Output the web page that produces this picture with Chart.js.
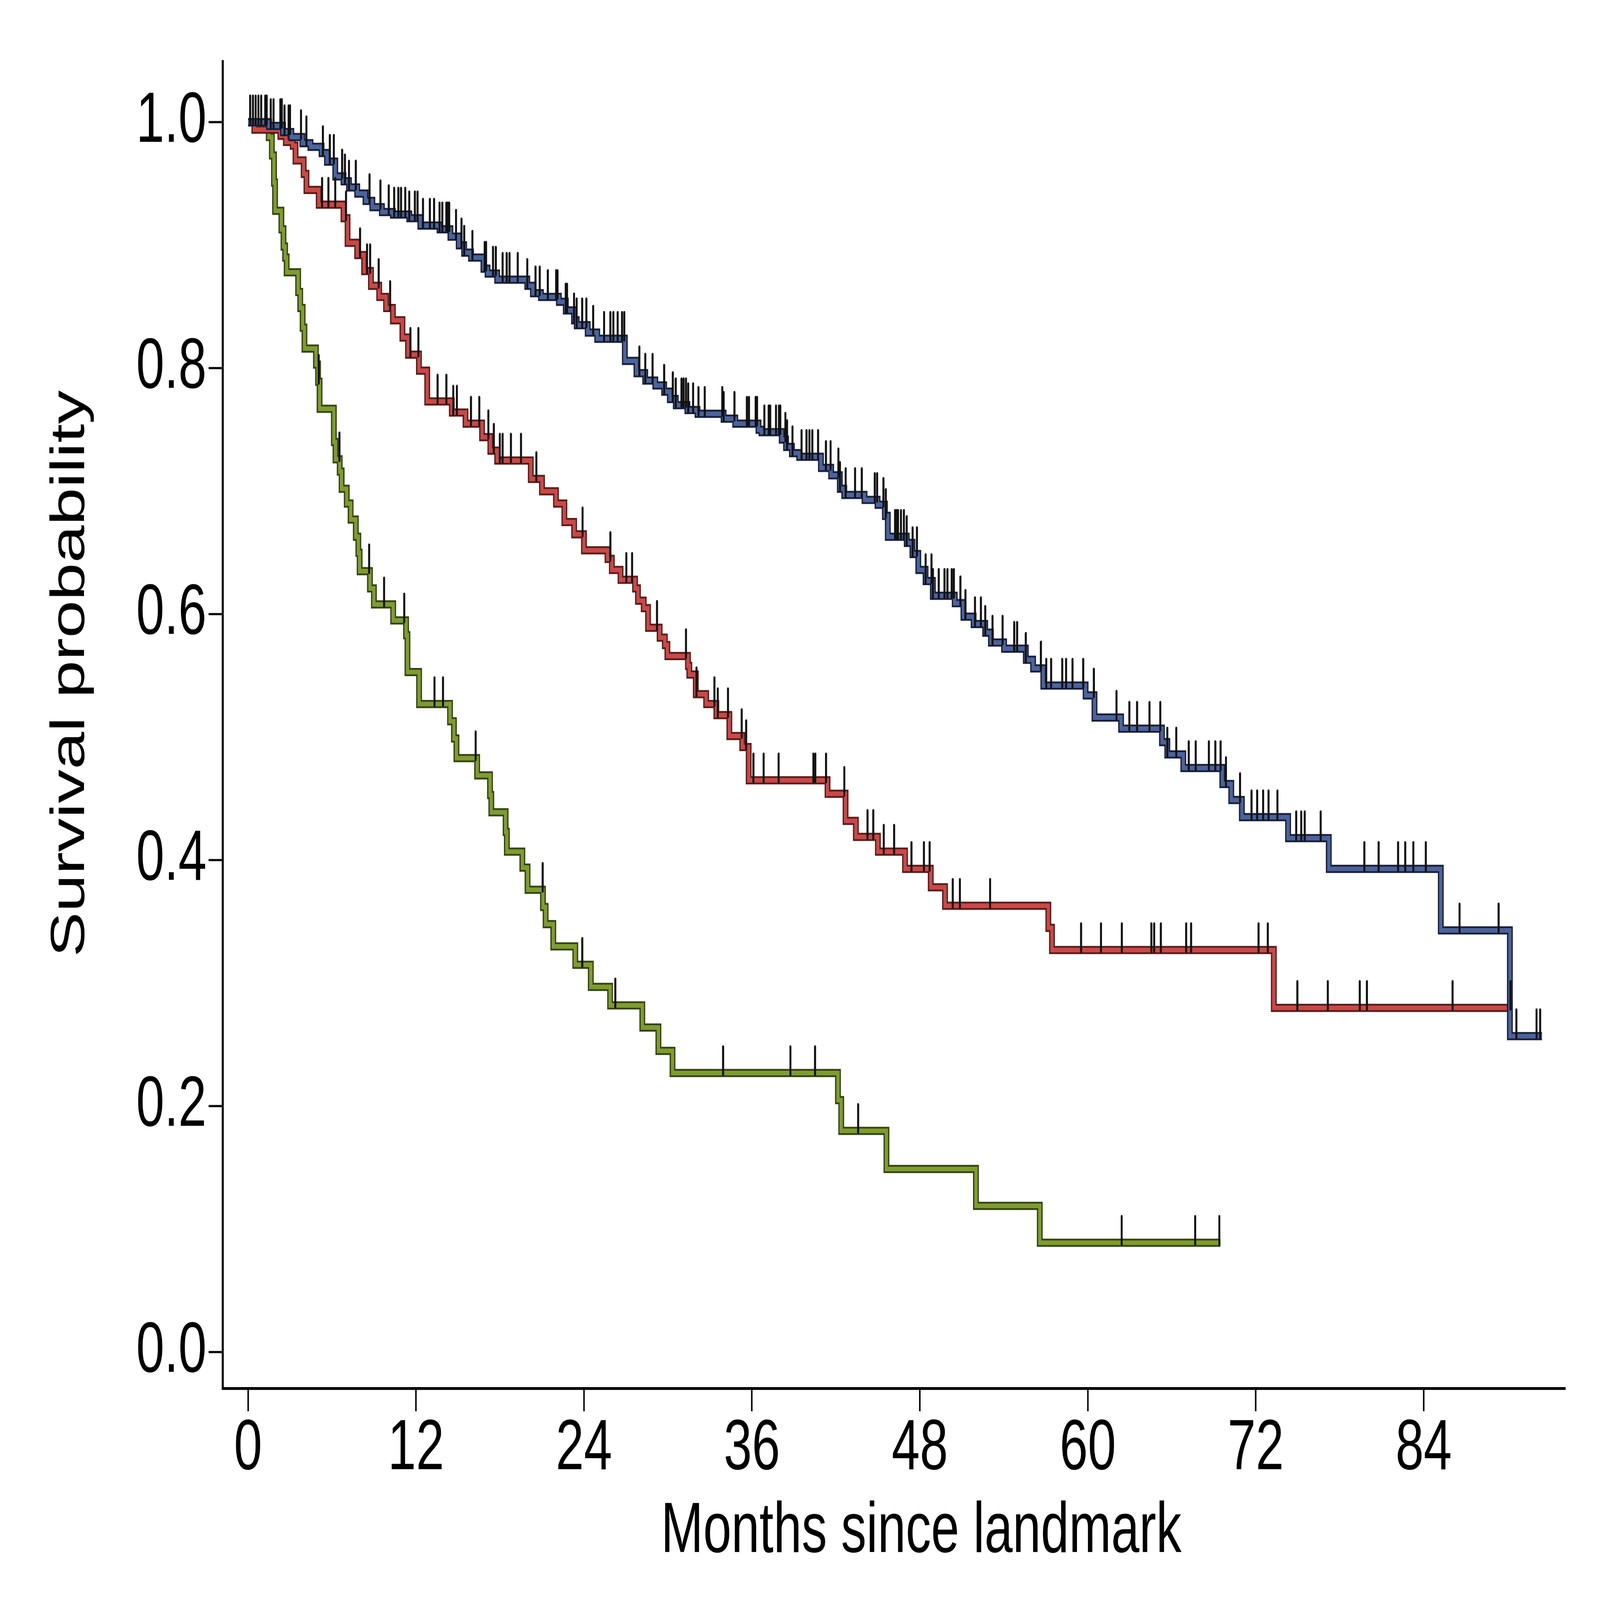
<!DOCTYPE html>
<html>
<head>
<meta charset="utf-8">
<script src="https://cdn.jsdelivr.net/npm/chart.js@4.4.1/dist/chart.umd.min.js"></script>
<style>
  html, body { margin: 0; padding: 0; background: #fff; overflow: hidden; }
  #km { display: block; }
</style>
</head>
<body>
<canvas id="km" width="6322" height="4501"></canvas>
<script>
// axis ticks and titles
const xTickValues = [0, 12, 24, 36, 48, 60, 72, 84];
const yTickValues = [0.0, 0.2, 0.4, 0.6, 0.8, 1.0];
const xTitle = 'Months since landmark';
const yTitle = 'Survival probability';

// green group: event times (months) and survival after each event
const greenTime = [0, 1.48, 1.70, 1.85, 1.93, 2.38, 2.53, 2.65, 2.76, 3.58, 3.73, 3.90, 4.03, 4.85, 5.00,
    5.11, 6.13, 6.25, 6.55, 6.68, 7.05, 7.33, 7.70, 7.88, 7.97, 8.71, 8.99, 10.37, 11.29, 11.39,
    12.22, 14.43, 14.71, 14.89, 16.37, 17.29, 17.38, 18.40, 18.49, 19.60, 19.97, 21.07, 21.26, 21.81, 23.38,
    24.49, 25.87, 28.17, 29.32, 30.33, 42.15, 42.38, 45.61, 52.01, 56.57, 69.48];
const greenSurv = [1.000, 0.988, 0.973, 0.951, 0.928, 0.913, 0.899, 0.890, 0.878, 0.862, 0.849, 0.833, 0.816, 0.803, 0.789,
    0.767, 0.740, 0.726, 0.716, 0.702, 0.690, 0.677, 0.663, 0.650, 0.635, 0.621, 0.608, 0.595, 0.583, 0.553,
    0.527, 0.513, 0.499, 0.483, 0.469, 0.453, 0.439, 0.423, 0.407, 0.394, 0.376, 0.362, 0.348, 0.330, 0.315,
    0.297, 0.282, 0.264, 0.245, 0.227, 0.205, 0.180, 0.149, 0.119, 0.089, 0.089];
const greenCensor = [5.05, 6.53, 8.65, 9.72, 11.16, 13.32, 13.93, 16.26, 21.05, 23.88, 26.24,
    33.94, 38.75, 40.51, 43.59, 62.42, 67.67, 69.40];

// red group
const redTime = [0, 0.45, 2.31, 2.70, 3.19, 3.39, 3.97, 4.17, 5.05, 6.82, 7.11, 7.80, 8.29, 8.78, 9.37,
    9.86, 10.35, 11.03, 11.43, 12.21, 12.80, 14.56, 15.54, 16.72, 17.31, 17.80, 20.20, 21.00, 22.00, 22.60,
    23.30, 24.00, 25.68, 25.99, 26.61, 27.65, 27.86, 28.27, 28.58, 29.41, 29.78, 29.96, 31.43, 31.53, 31.99,
    32.73, 33.46, 34.39, 35.31, 35.77, 41.40, 42.69, 43.43, 45.00, 46.94, 48.78, 49.80, 57.18, 57.44, 73.29,
    90.30];
const redSurv = [1.000, 0.994, 0.989, 0.984, 0.981, 0.969, 0.958, 0.945, 0.933, 0.922, 0.902, 0.892, 0.879, 0.867, 0.858,
    0.849, 0.839, 0.825, 0.811, 0.798, 0.773, 0.764, 0.755, 0.744, 0.733, 0.725, 0.710, 0.700, 0.690, 0.675,
    0.665, 0.652, 0.645, 0.636, 0.628, 0.621, 0.611, 0.605, 0.589, 0.581, 0.575, 0.566, 0.558, 0.551, 0.535,
    0.527, 0.518, 0.501, 0.492, 0.465, 0.454, 0.432, 0.419, 0.407, 0.393, 0.378, 0.363, 0.345, 0.327, 0.280,
    0.280];
const redCensor = [5.29, 5.74, 6.23, 7.00, 8.00, 8.50, 8.72, 9.33, 10.15, 11.60, 12.17, 13.54, 14.17, 14.66, 14.92,
    15.93, 16.52, 17.17, 17.56, 17.99, 18.19, 18.78, 19.50, 20.60, 23.90, 25.89, 27.03, 27.44, 29.22, 31.29,
    32.04, 33.32, 33.56, 34.29, 35.27, 35.59, 36.11, 36.84, 37.91, 40.39, 40.53, 41.30, 42.60, 44.26, 44.67,
    45.42, 46.16, 47.40, 48.29, 48.70, 50.35, 50.86, 53.02, 59.52, 60.94, 62.43, 64.54, 64.74, 65.22, 67.03,
    67.38, 72.20, 72.86, 74.97, 77.15, 79.43, 79.94, 86.06, 90.20];

// blue group
const blueTime = [0, 1.50, 2.50, 3.09, 3.88, 4.46, 5.25, 5.64, 6.23, 6.82, 7.21, 7.80, 8.39, 8.88, 9.56,
    10.35, 11.52, 12.31, 13.68, 14.46, 15.05, 15.44, 15.93, 16.82, 17.11, 17.80, 19.95, 20.35, 20.93, 22.21,
    22.70, 23.29, 23.48, 24.27, 24.95, 26.92, 27.75, 28.38, 29.10, 29.73, 30.14, 30.56, 31.39, 32.11, 33.98,
    34.81, 36.47, 36.68, 38.13, 38.44, 38.86, 39.38, 40.93, 41.66, 42.28, 42.60, 44.05, 44.98, 45.50, 45.71,
    47.06, 47.47, 47.89, 48.41, 48.93, 50.49, 51.11, 51.84, 52.67, 53.08, 54.02, 55.57, 56.09, 56.82, 59.84,
    60.48, 62.38, 65.30, 65.68, 66.82, 69.61, 70.25, 71.01, 74.31, 77.22, 85.22, 90.16, 92.45];
const blueSurv = [1.000, 0.997, 0.992, 0.988, 0.983, 0.980, 0.975, 0.968, 0.956, 0.952, 0.947, 0.942, 0.936, 0.931, 0.927,
    0.925, 0.922, 0.916, 0.913, 0.907, 0.900, 0.894, 0.890, 0.881, 0.877, 0.872, 0.867, 0.861, 0.858, 0.854,
    0.847, 0.839, 0.835, 0.829, 0.824, 0.806, 0.796, 0.790, 0.786, 0.781, 0.775, 0.770, 0.766, 0.763, 0.759,
    0.755, 0.750, 0.748, 0.742, 0.736, 0.731, 0.728, 0.719, 0.713, 0.702, 0.697, 0.693, 0.689, 0.680, 0.663,
    0.658, 0.649, 0.636, 0.627, 0.615, 0.609, 0.598, 0.592, 0.585, 0.577, 0.572, 0.563, 0.556, 0.542, 0.534,
    0.516, 0.507, 0.496, 0.486, 0.475, 0.462, 0.449, 0.435, 0.418, 0.393, 0.343, 0.257, 0.257];
const blueCensor = [0.15, 0.35, 0.54, 0.74, 0.94, 1.23, 1.33, 1.62, 1.82, 2.31, 2.41, 2.60, 2.90, 3.00, 3.78,
    4.17, 5.35, 5.84, 6.13, 6.72, 6.92, 7.21, 7.70, 8.68, 9.46, 10.05, 10.44, 10.74, 10.93, 11.23,
    11.52, 11.92, 12.11, 12.50, 12.99, 13.29, 13.68, 13.88, 14.17, 14.27, 14.37, 14.86, 15.25, 15.44, 16.03,
    16.91, 17.01, 17.50, 17.70, 18.19, 18.48, 18.68, 19.27, 19.95, 20.54, 20.84, 21.42, 22.01, 22.11, 22.70,
    22.79, 23.29, 23.48, 23.87, 24.17, 24.66, 25.44, 25.89, 26.10, 26.41, 26.72, 26.88, 27.96, 28.38, 28.90,
    29.73, 30.35, 30.56, 30.97, 31.12, 31.29, 31.45, 31.80, 32.18, 32.63, 33.88, 33.98, 34.75, 35.64, 35.79,
    36.27, 36.37, 36.89, 37.20, 37.31, 37.72, 37.93, 38.03, 38.39, 38.51, 38.90, 39.55, 39.90, 40.11, 40.32,
    40.73, 41.29, 41.62, 42.18, 42.29, 42.70, 43.37, 43.85, 44.78, 44.95, 45.40, 45.57, 46.23, 46.34, 46.44,
    46.65, 46.86, 47.06, 47.48, 47.79, 48.41, 48.83, 48.93, 49.35, 49.76, 49.97, 50.28, 50.43, 50.90, 51.26,
    51.94, 52.36, 52.67, 53.19, 53.91, 54.74, 54.95, 55.57, 56.65, 57.03, 57.38, 58.17, 58.45, 58.91, 59.67,
    60.43, 62.05, 62.97, 63.52, 64.41, 65.18, 65.68, 66.32, 67.21, 67.71, 68.65, 69.11, 69.49, 69.87, 70.88,
    71.70, 72.10, 72.53, 72.91, 73.55, 74.89, 75.25, 75.50, 76.64, 79.76, 80.78, 82.17, 82.68, 83.26, 84.15,
    86.56, 89.35, 90.62, 92.06, 92.32];

const FONT = '"Liberation Sans", Arial, sans-serif';

// drawn at 6322x4501 and shown at the size of the window
const canvas = document.getElementById('km');
canvas.style.width = '100vw';
canvas.style.height = '100vh';

//helpers
function stepPoints(times, surv) {
    return times.map((t, i) => ({ x: t, y: surv[i] }));
}
// censor mark sits on the curve level at that time
function survAt(times, surv, t) {
    let s = surv[0];
    for (let i = 0; i < times.length; i++) {
        if (times[i] <= t) s = surv[i];
        else break;
    }
    return s;
}
function censorPoints(times, surv, cens) {
    return cens.map(t => ({ x: t, y: survAt(times, surv, t) }));
}
// vertical tick mark, mostly above the point
function makeTickMark() {
    const c = document.createElement('canvas');
    c.width = 14;
    c.height = 164;
    const g = c.getContext('2d');
    g.strokeStyle = '#111';
    g.lineWidth = 8;
    g.lineCap = 'round';
    g.beginPath();
    g.moveTo(7, 8);
    g.lineTo(7, 86);
    g.stroke();
    return c;
}
const tickMark = makeTickMark();

function curve(points, color, width, order) {
    return {
        data: points,
        borderColor: color,
        borderWidth: width,
        stepped: 'before',
        pointRadius: 0,
        fill: false,
        tension: 0,
        borderJoinStyle: 'miter',
        borderCapStyle: 'butt',
        order: order
    };
}
function censors(points, order) {
    return {
        data: points,
        showLine: false,
        pointStyle: tickMark,
        pointRadius: 5,
        order: order
    };
}

const greenPts = stepPoints(greenTime, greenSurv);
const redPts = stepPoints(redTime, redSurv);
const bluePts = stepPoints(blueTime, blueSurv);

const datasets = [
    curve(greenPts, '#34420e', 23, 9),
    curve(greenPts, '#7f9b36', 13, 8),
    curve(redPts, '#5a1916', 23, 7),
    curve(redPts, '#c44b4b', 13, 6),
    curve(bluePts, '#151d38', 23, 5),
    curve(bluePts, '#4d6399', 13, 4),
    censors(censorPoints(greenTime, greenSurv, greenCensor), 1),
    censors(censorPoints(redTime, redSurv, redCensor), 1),
    censors(censorPoints(blueTime, blueSurv, blueCensor), 1)
];

//plugin: axis titles placed like the original
const axisTitles = {
    id: 'axis_titles',
    afterDraw: (chart) => {
        const ctx = chart.ctx;
        ctx.save();
        ctx.fillStyle = '#000';
        ctx.textAlign = 'center';
        ctx.textBaseline = 'alphabetic';
        ctx.font = '200px ' + FONT;
        ctx.fillText(xTitle, 3640, 4366);
        ctx.translate(332, 1895);
        ctx.rotate(-Math.PI / 2);
        ctx.font = '190px ' + FONT;
        ctx.fillText(yTitle, 0, 0);
        ctx.restore();
    }
};

const config = {
    type: 'line',
    data: { datasets: datasets },
    options: {
        responsive: false,
        animation: false,
        devicePixelRatio: 1,
        layout: { padding: { left: 0, right: 137, top: 173, bottom: 0 } },
        plugins: { legend: { display: false }, tooltip: { enabled: false } },
        scales: {
            x: {
                type: 'linear',
                min: -1.81,
                max: 94.12,
                afterFit: (scale) => { scale.height = 595; },
                afterBuildTicks: (scale) => { scale.ticks = xTickValues.map(v => ({ value: v })); },
                border: { display: true, color: '#000', width: 8 },
                grid: { display: true, drawOnChartArea: false, drawTicks: true, tickLength: 64, tickWidth: 6, tickColor: '#000' },
                ticks: {
                    color: '#000',
                    padding: 8,
                    maxRotation: 0,
                    autoSkip: false,
                    font: { family: FONT, size: 200, lineHeight: 1 },
                    callback: (v) => String(v)
                }
            },
            y: {
                type: 'linear',
                min: -0.0295,
                max: 1.0494,
                afterFit: (scale) => { scale.width = 880; },
                afterBuildTicks: (scale) => { scale.ticks = yTickValues.map(v => ({ value: v })); },
                border: { display: true, color: '#000', width: 8 },
                grid: { display: true, drawOnChartArea: false, drawTicks: true, tickLength: 56, tickWidth: 6, tickColor: '#000' },
                ticks: {
                    color: '#000',
                    padding: 8,
                    autoSkip: false,
                    font: { family: FONT, size: 200, lineHeight: 1 },
                    callback: (v) => Number(v).toFixed(1)
                }
            }
        }
    },
    plugins: [axisTitles]
};

//render init
const km = new Chart(canvas, config);
</script>
</body>
</html>
